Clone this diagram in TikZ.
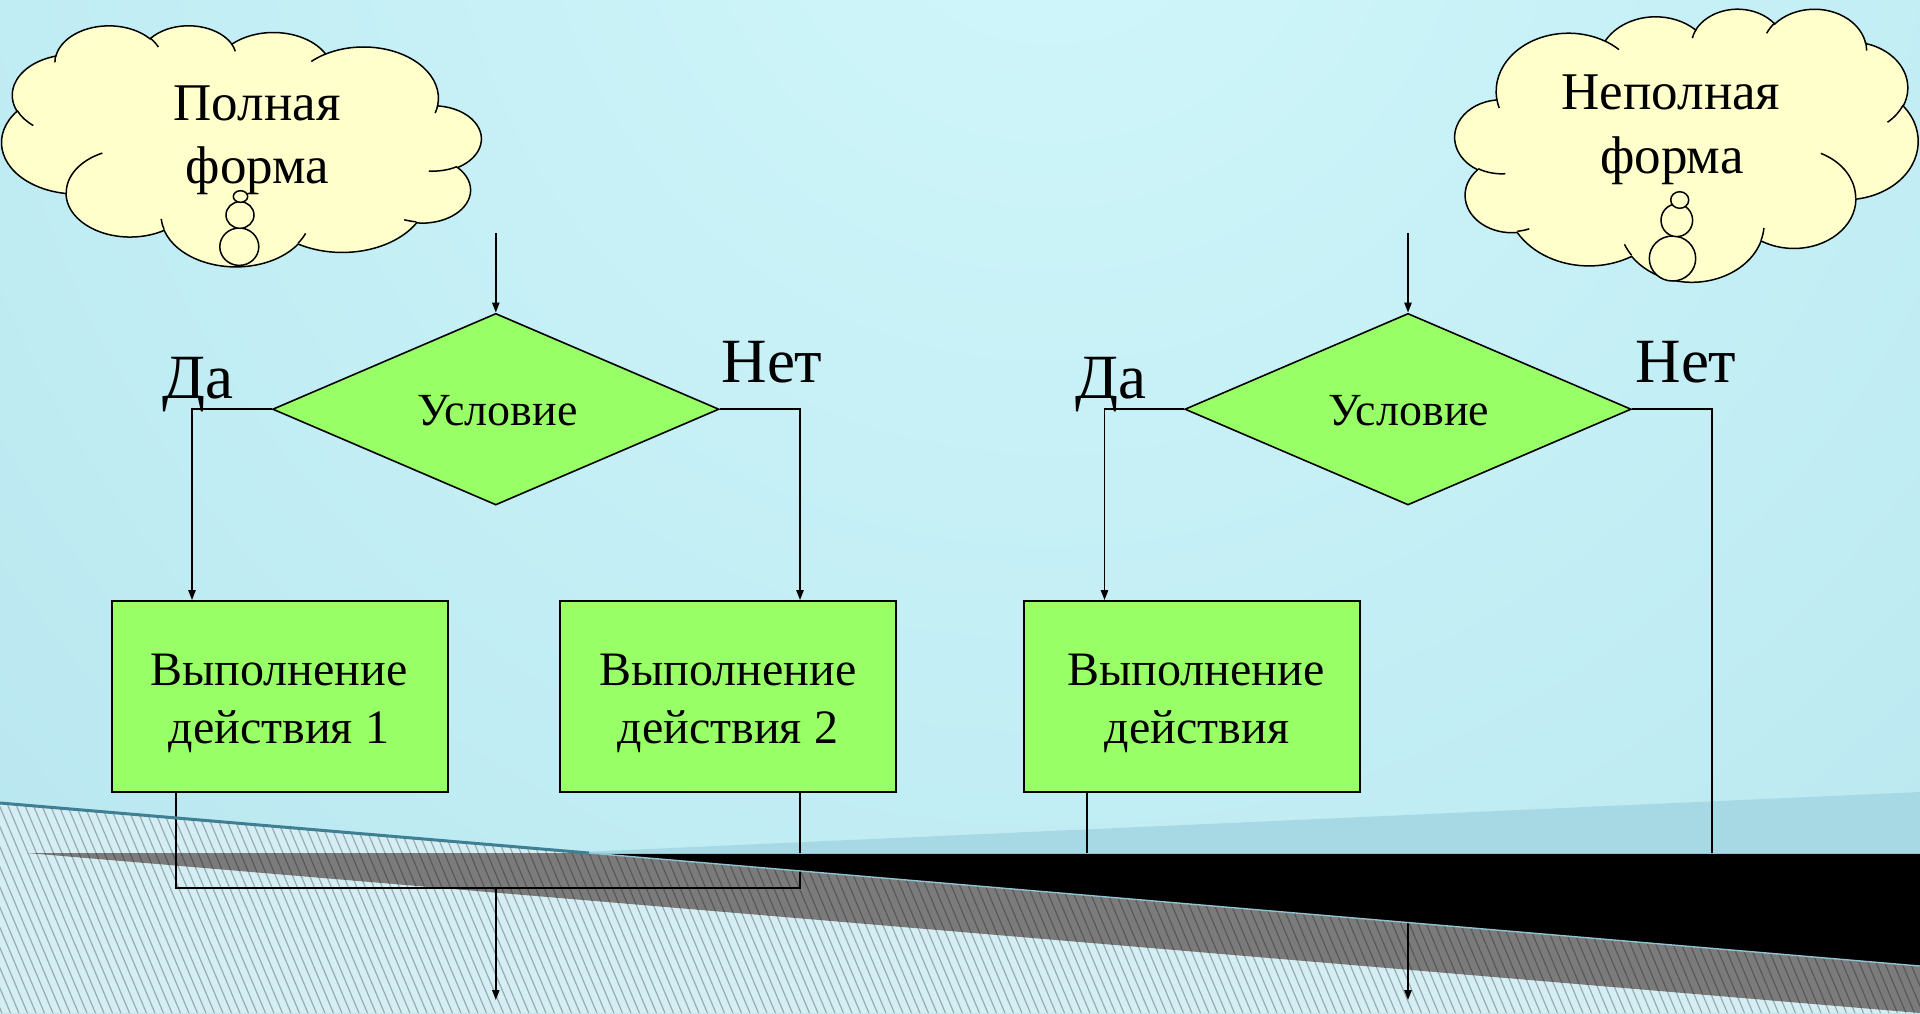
\documentclass[tikz,border=0pt]{standalone}
\usepackage{fontspec}
\setmainfont{Liberation Serif}
\usetikzlibrary{shapes.geometric,arrows.meta}
\definecolor{bgbase}{HTML}{A8DBE7}
\definecolor{bgtop}{HTML}{D0F7FB}
\definecolor{bandc}{HTML}{A7D9E4}
\definecolor{hatchbg}{HTML}{D4EEF3}
\definecolor{grayband}{HTML}{7B7B7B}
\definecolor{edgeblue}{HTML}{3E7F93}
\definecolor{edgelight}{HTML}{8EC3CF}
\definecolor{flowgreen}{HTML}{99FF66}
\definecolor{cloudfill}{HTML}{FFFFCC}
\tikzset{
  oo/.code n args={4}{%
    \pgfmathsetmacro\ooS{atan2((#1)*sin(#3),(#2)*cos(#3))}%
    \pgfmathsetmacro\ooE{atan2((#1)*sin((#3)+(#4)),(#2)*cos((#3)+(#4)))}%
    \pgfmathsetmacro\ooD{\ooE-(\ooS)}%
    \pgfmathsetmacro\ooD{\ooD+360*((\ooD)<0)}%
    \edef\ootmp{\noexpand\pgfkeysalso{x radius=#1, y radius=#2, start angle=\ooS, delta angle=\ooD}}%
    \ootmp},
  conn/.style={draw=black, line width=0.9pt},
  arr/.style={conn, -{Triangle[length=5pt,width=3.6pt]}},
  cond/.style={shape=diamond, draw=black, line width=0.8pt, fill=flowgreen,
    minimum width=223.2pt, minimum height=95.8pt, inner sep=0pt},
  act/.style={rectangle, draw=black, line width=1pt, fill=flowgreen,
    minimum width=168.3pt, minimum height=95.6pt, inner sep=0pt},
  cloudline/.style={draw=black, line width=0.75pt},
  hatch/.style={draw=black, draw opacity=0.28, line width=0.6pt},
  lbl/.style={anchor=base, inner sep=0pt, font=\fontsize{31.5}{36}\selectfont},
  condtxt/.style={anchor=base, inner sep=0pt, font=\fontsize{23}{27}\selectfont},
  acttxt/.style={anchor=base, inner sep=0pt, font=\fontsize{24}{28}\selectfont},
  cloudtxt/.style={anchor=base, inner sep=0pt, font=\fontsize{26.5}{31}\selectfont},
}
\newcommand\drawoocloud{%
  \filldraw[fill=cloudfill, cloudline] (39.00,143.70)
    arc[oo={67.53}{91.90}{-190.4875}{123.7805}]
    arc[oo={53.33}{72.67}{-144.1024}{89.9452}]
    arc[oo={43.65}{59.45}{-145.8079}{99.7230}]
    arc[oo={48.57}{65.95}{-130.9861}{117.2417}]
    arc[oo={53.33}{72.73}{-78.7089}{109.0269}]
    arc[oo={67.75}{92.20}{-46.2673}{130.2690}]
    arc[oo={57.85}{78.67}{0.6250}{114.0333}]
    arc[oo={67.52}{92.15}{22.4516}{115.1726}]
    arc[oo={77.20}{105.43}{66.2426}{75.7110}]
    arc[oo={43.60}{59.18}{-274.9421}{146.7356}]
    arc[oo={43.45}{59.45}{-246.8285}{152.5189}] -- cycle;
  \draw[cloudline]
    (46.93,261.77) arc[oo={43.45}{59.45}{86.7420}{26.4295}]
    (69.28,348.99) arc[oo={43.60}{59.18}{73.6105}{11.4475}]
    (164.78,390.90) arc[oo={67.52}{92.15}{137.6242}{14.0811}]
    (288.27,347.51) arc[oo={67.52}{92.15}{6.4533}{15.9984}]
    (341.29,229.54) arc[oo={57.85}{78.67}{-70.2924}{70.9174}]
    (417.98,153.54) arc[oo={53.33}{72.73}{30.3180}{27.7515}]
    (383.24,54.26) arc[oo={48.57}{65.95}{-13.7443}{14.8589}]
    (290.78,39.52) arc[oo={48.57}{65.95}{-149.1815}{18.1954}]
    (221.41,47.20) arc[oo={43.65}{59.45}{-163.4943}{17.6864}]
    (140.00,51.92) arc[oo={67.53}{91.90}{-66.7070}{12.3194}]
    (41.27,157.89) arc[oo={67.53}{91.90}{157.6544}{11.8582}];
}
\begin{document}
\begin{tikzpicture}[x=1pt,y=1pt]
\begin{scope}[xscale=0.5,yscale=-0.5]
\useasboundingbox (0,0) rectangle (1920,1013);
% background
\begin{scope}
  \clip (0,0) rectangle (1920,1013);
  \fill[bgbase] (0,0) rectangle (1920,1013);
  \fill[inner color=bgtop, outer color=bgbase] (1050,-150) circle (2600);
  \fill[bandc] (560,853) -- (1920,792) -- (1920,853) -- cycle;
  \fill[hatchbg] (0,803) -- (1920,966) -- (1920,1013) -- (0,1013) -- cycle;
  \fill[grayband] (27,853) -- (589,853) -- (1920,966) -- (1920,1013) -- cycle;
  \clip (0,803) -- (1920,966) -- (1920,1013) -- (0,1013) -- cycle;
  \foreach \k in {0,...,265} \draw[hatch] ({-260+\k*8.5},795) -- ++(97,230);
\end{scope}
% clouds
\begin{scope}[shift={(481,25)}, xscale=-1.1095, yscale=0.5579]
  \drawoocloud
\end{scope}
\begin{scope}[shift={(1455,8.3)}, xscale=1.0718, yscale=0.6319]
  \drawoocloud
\end{scope}
\filldraw[fill=cloudfill, cloudline] (239.3,246.7) ellipse [x radius=19.5, y radius=18.7];
\filldraw[fill=cloudfill, cloudline] (240,215) ellipse [x radius=14, y radius=13.3];
\filldraw[fill=cloudfill, cloudline] (240.5,196.5) ellipse [x radius=7.2, y radius=5.8];
\filldraw[fill=cloudfill, cloudline] (1672.5,258.5) ellipse [x radius=23.2, y radius=22.5];
\filldraw[fill=cloudfill, cloudline] (1676.8,220.3) ellipse [x radius=15.8, y radius=16.3];
\filldraw[fill=cloudfill, cloudline] (1679.7,200) ellipse [x radius=9, y radius=8.3];
\node[cloudtxt] (c1a) at (257,120) {Полная};
\node[cloudtxt] (c1b) at (257.5,183.3) {форма};
\node[cloudtxt] (c2a) at (1671,109) {Неполная};
\node[cloudtxt] (c2b) at (1672,173.3) {форма};
% flowchart nodes
\node[cond] (d1) at (495.8,409.2) {};
\node[cond] (d2) at (1408,409.2) {};
\node[act] (b1) at (280,696.7) {};
\node[act] (b2) at (728,696.7) {};
\node[act] (b3) at (1192,696.7) {};
\coordinate (s1) at (495.8,233);
\coordinate (s2) at (1408,233);
\coordinate (xl1) at (192,0);
\coordinate (xr1) at (800,0);
\coordinate (xb1) at (176.3,0);
\coordinate (j1) at (495.8,888);
\coordinate (e1) at (495.8,1000);
\coordinate (xl2) at (1104.5,0);
\coordinate (xb3) at (1087.3,0);
\coordinate (k2) at (1711.8,888);
\coordinate (c2) at (1087.3,888);
\coordinate (j2) at (1408,888);
\coordinate (e2) at (1408,1000);
% connectors
\draw[arr] (s1) -- (d1.north);
\draw[arr] (d1.west) -| (b1.north -| xl1);
\draw[arr] (d1.east) -| (b2.north -| xr1);
\draw[conn] (b1.south -| xb1) |- (j1) -| (b2.south -| xr1);
\draw[arr] (j1) -- (e1);
\draw[arr] (s2) -- (d2.north);
\draw[arr] (d2.west) -| (b3.north -| xl2);
\draw[conn] (d2.east) -| (k2) -- (c2) -- (b3.south -| xb3);
\draw[arr] (j2) -- (e2);
% texts
\node[condtxt] (tc1) at (497.5,425) {Условие};
\node[condtxt] (tc2) at (1409,425) {Условие};
\node[lbl] (yes1) at (198,398) {Да};
\node[lbl] (no1) at (772,382.5) {Нет};
\node[lbl] (yes2) at (1110.5,398) {Да};
\node[lbl] (no2) at (1686,382.5) {Нет};
\node[acttxt] (t1a) at (279,685) {Выполнение};
\node[acttxt] (t1b) at (279,743.3) {действия 1};
\node[acttxt] (t2a) at (728,685) {Выполнение};
\node[acttxt] (t2b) at (728,743.3) {действия 2};
\node[acttxt] (t3a) at (1196,685) {Выполнение};
\node[acttxt] (t3b) at (1197,743.3) {действия};
% foreground band
\fill[black] (589,853) -- (1920,853) -- (1920,966) -- cycle;
\draw[edgelight, line width=0.5pt] (589,853) -- (1920,853);
\draw[edgelight, line width=0.7pt] (589,853) -- (1920,966);
\draw[edgeblue, line width=1.5pt] (0,803) -- (589,853);
\end{scope}
\end{tikzpicture}
\end{document}
